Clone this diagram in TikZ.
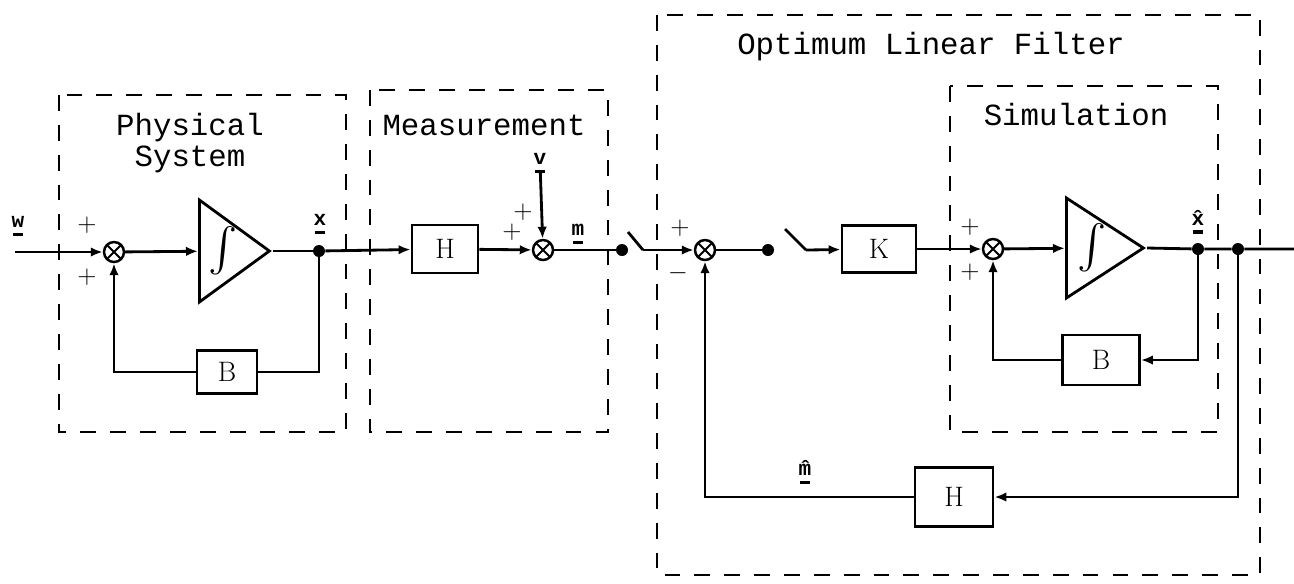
\documentclass[tikz,border=0pt]{standalone}
\usepackage{amsmath}
\usepackage{fontspec}
\setmonofont{Liberation Mono}
\usetikzlibrary{arrows.meta,positioning,calc,shapes.geometric}
\newcommand{\sig}[1]{\shortstack{\ttfamily\bfseries #1\\\rule{5.5pt}{1.8pt}}}
\tikzset{
  ln/.style={line width=1.6pt},
  arr/.style={-{Latex[length=2.4mm,width=1.9mm]}, line width=1.6pt},
  blk/.style={rectangle, draw, line width=1.6pt, inner sep=0pt,
              font=\fontsize{16}{16}\selectfont},
  summer/.style={circle, draw, line width=1.4pt, minimum size=0.4cm, inner sep=0pt,
     path picture={\draw[line width=1.1pt]
        (path picture bounding box.north west) -- (path picture bounding box.south east)
        (path picture bounding box.north east) -- (path picture bounding box.south west);}},
  jdot/.style={circle, fill, inner sep=0pt, minimum size=0.24cm},
  integ/.style={isosceles triangle, isosceles triangle stretches, draw, line width=1.6pt,
                inner sep=0pt, anchor=lower side},
  frame/.style={line width=1.6pt, dash pattern=on 9pt off 8pt},
  ttl/.style={font=\ttfamily\fontsize{17.5}{17.8}\selectfont, align=center, inner sep=0pt},
  sgn/.style={font=\Large, inner sep=0pt},
  lbl/.style={font=\fontsize{12}{12}\selectfont, inner sep=0pt},
  intsym/.style={font=\fontsize{28}{28}\selectfont, inner sep=0pt},
}
\begin{document}
\begin{tikzpicture}[x=0.02cm, y=-0.02cm]
  \useasboundingbox (0,0) rectangle (1294,583);
  % dashed frames
  \draw[frame] (59,95) rectangle (346,432);
  \draw[frame] (370,90) rectangle (608,432);
  \draw[frame] (657,15) rectangle (1260,575);
  \draw[frame] (950,86) rectangle (1218,432);
  \node[ttl] (tphys) at (190,143) {Physical\\System};
  \node[ttl] (tmeas) at (484,125) {Measurement};
  \node[ttl] (tolf) at (931,47) {Optimum Linear Filter};
  \node[ttl] (tsim) at (1076,115) {Simulation};

  % physical system
  \coordinate (win) at (15,252);
  \node[lbl] (w) at (18,226) {\sig{w}};
  \node[summer] (sum1) at (114,252) {};
  \node[integ, minimum width=2.04cm, minimum height=1.4cm] (int1) at (198,251) {};
  \node[intsym] (i1) at ($(int1.lower side)!0.33!(int1.apex)$) {$\int$};
  \node[jdot] (dx) at (319,251) {};
  \node[lbl] (x) at (320,224) {\sig{x}};
  \node[blk, minimum width=1.2cm, minimum height=0.86cm] (B1) at (227,372) {B};
  \node[sgn] at (87,225) {$+$};
  \node[sgn] at (87,277) {$+$};
  \draw[arr] (win) -- (sum1);
  \draw[arr] (sum1) -- (int1);
  \draw[ln] (int1.apex) -- (dx);
  \draw[ln] (dx) |- (B1);
  \draw[arr] (B1) -| (sum1);

  % measurement
  \node[blk, minimum width=1.32cm, minimum height=0.96cm] (H1) at (445,249) {H};
  \node[summer] (sum2) at (543,250) {};
  \node[lbl] (v) at (540,163) {\sig{v}};
  \node[lbl] (m) at (578,234) {\sig{m}};
  \node[jdot] (dm) at (622,250) {};
  \node[sgn] at (523,212) {$+$};
  \node[sgn] at (512,232) {$+$};
  \draw[arr] (dx) -- (H1);
  \draw[arr] (H1) -- (sum2);
  \draw[arr] (v) -- (sum2);
  \draw[ln] (sum2) -- (dm);

  % optimum linear filter
  \coordinate (sw1a) at (628,232);
  \coordinate (sw1b) at (643,250);
  \node[summer] (sum3) at (705,250) {};
  \node[sgn] at (680,228) {$+$};
  \node[sgn] at (678,273) {$-$};
  \node[jdot] (dk) at (768,250) {};
  \coordinate (sw2a) at (785,229);
  \coordinate (sw2b) at (806,250);
  \node[blk, minimum width=1.48cm, minimum height=0.94cm] (K) at (879,249) {K};
  \draw[ln] (sw1a) -- (sw1b);
  \draw[arr] (sw1b) -- (sum3);
  \draw[ln] (sum3) -- (dk);
  \draw[ln] (sw2a) -- (sw2b);
  \draw[arr] (sw2b) -- (K);

  % simulation
  \node[summer] (sum4) at (993,249) {};
  \node[sgn] at (970,227) {$+$};
  \node[sgn] at (970,272) {$+$};
  \node[integ, minimum width=2cm, minimum height=1.54cm] (int2) at (1065,248) {};
  \node[intsym] (i2) at ($(int2.lower side)!0.33!(int2.apex)$) {$\int$};
  \node[jdot] (dxh) at (1198,249) {};
  \node[lbl] (xh) at (1198,222) {\sig{\^{x}}};
  \node[blk, minimum width=1.54cm, minimum height=1cm] (B2) at (1101,360) {B};
  \node[jdot] (dout) at (1238,249) {};
  \coordinate (xout) at (1294,249);
  \draw[arr] (K) -- (sum4);
  \draw[arr] (sum4) -- (int2);
  \draw[ln] (int2.apex) -- (dxh) -- (dout) -- (xout);
  \draw[arr] (dxh) |- (B2);
  \draw[arr] (B2) -| (sum4);

  % measurement estimate
  \node[blk, minimum width=1.56cm, minimum height=1.18cm] (H2) at (954,497) {H};
  \node[lbl] (mh) at (805,472) {\sig{\^{m}}};
  \draw[arr] (dout) |- (H2);
  \draw[arr] (H2) -| (sum3);
\end{tikzpicture}
\end{document}
